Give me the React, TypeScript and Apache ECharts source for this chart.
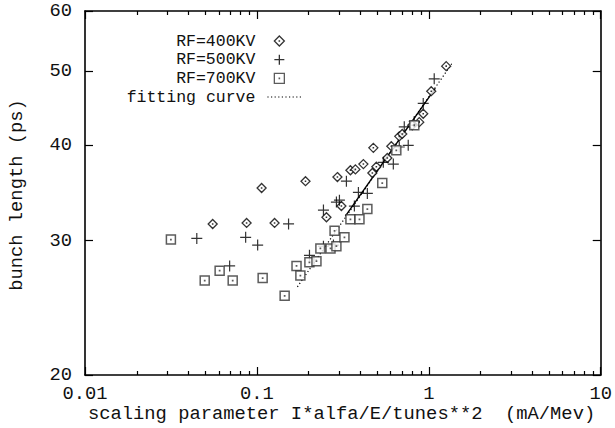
import React, { useEffect, useRef } from 'react';
import * as echarts from 'echarts';

// ---- data ----
const x400 = [0.0553, 0.0871, 0.1065, 0.1267, 0.1917, 0.2538, 0.3101, 0.294, 0.3499, 0.374, 0.4163, 0.4694, 0.4757, 0.4952, 0.5736, 0.605, 0.6733, 0.7006, 0.8012, 0.8796, 0.9279, 1.033, 1.262];
const y400 = [31.55, 31.65, 35.17, 31.65, 35.9, 32.2, 33.3, 36.35, 37.1, 37.2, 37.8, 36.8, 39.7, 37.5, 38.5, 39.9, 41.1, 41.4, 42.5, 42.9, 44.0, 47.1, 50.8];

const x500 = [0.0447, 0.0694, 0.086, 0.101, 0.1528, 0.2022, 0.2438, 0.2438, 0.2787, 0.2901, 0.302, 0.3316, 0.369, 0.3894, 0.439, 0.5436, 0.6216, 0.6733, 0.759, 0.7198, 0.8229, 0.9279, 1.075];
const y500 = [30.2, 27.8, 30.3, 29.6, 31.55, 28.7, 32.9, 29.5, 29.6, 33.7, 33.9, 35.9, 33.3, 34.7, 34.6, 38.0, 37.8, 39.8, 40.0, 42.3, 43.0, 45.4, 48.9];

const x700 = [0.0316, 0.0497, 0.0607, 0.0723, 0.108, 0.145, 0.17, 0.179, 0.202, 0.222, 0.234, 0.268, 0.283, 0.29, 0.323, 0.35, 0.395, 0.439, 0.536, 0.647, 0.823];
const y700 = [30.1, 26.6, 27.4, 26.6, 26.8, 25.4, 27.8, 27.0, 28.1, 28.2, 29.3, 29.3, 30.9, 29.5, 30.3, 32.0, 32.0, 33.0, 35.7, 39.4, 42.5];

const fitX = [0.172, 1.37];
const fitY = [26.1, 51.3];
const solidX = [0.327, 1.09];
const solidY = [32.3, 47.5];

const xTickValues = [0.01, 0.1, 1, 10];
const xTickLabels = ['0.01', '0.1', '1', '10'];
const xMinorMultipliers = [2, 3, 4, 5, 6, 7, 8, 9];
const yTickValues = [20, 30, 40, 50, 60];
const yTickLabels = ['20', '30', '40', '50', '60'];

const seriesNames = ['RF=400KV', 'RF=500KV', 'RF=700KV', 'fitting curve'];
const xTitle = 'scaling parameter I*alfa/E/tunes**2  (mA/Mev)';
const yTitle = 'bunch length (ps)';

const FONT = "'Liberation Mono', 'DejaVu Sans Mono', monospace";
const FS = 18.8;
const LFS = 16.5;
const TXT = '#111';

const DIAMOND = 'path://M5,0L10,5L5,10L0,5Z M4.85,4.85L5.15,4.85L5.15,5.15L4.85,5.15Z';
const SQUARE = 'path://M0,0L10,0L10,10L0,10Z M4.85,4.85L5.15,4.85L5.15,5.15L4.85,5.15Z';
const PLUS = 'path://M0,5L10,5M5,0L5,10';

const lg = (v: number) => Math.log10(v);
const pts = (xs: number[], ys: number[]) => xs.map((x, i) => [lg(x), lg(ys[i])]);

export default function App() {
  const ref = useRef<HTMLDivElement>(null);
  useEffect(() => {
    const chart = echarts.init(ref.current!, null, { renderer: 'svg' });
    const xMin = lg(xTickValues[0]);
    const xMax = lg(xTickValues[xTickValues.length - 1]);
    const yMin = lg(yTickValues[0]);
    const yMax = lg(yTickValues[yTickValues.length - 1]);
    const xMajor = xTickValues.map(lg);
    const xMinor: number[] = [];
    xTickValues.slice(0, -1).forEach((d) => xMinorMultipliers.forEach((k) => xMinor.push(lg(d * k))));
    const yMajor = yTickValues.map(lg);
    const axisLine = { show: true, onZero: false, lineStyle: { color: '#000', width: 1.6 } };
    const noLine = { show: false, onZero: false };
    const labelStyle = { fontFamily: FONT, fontSize: FS, color: TXT };
    const xFmt = (v: number) => {
      const i = xMajor.findIndex((m) => Math.abs(m - v) < 1e-6);
      return i >= 0 ? xTickLabels[i] : '';
    };
    const yFmt = (v: number) => {
      const i = yMajor.findIndex((m) => Math.abs(m - v) < 1e-6);
      return i >= 0 ? yTickLabels[i] : '';
    };
    const baseX = { type: 'value', min: xMin, max: xMax, splitLine: { show: false } };
    const baseY = { type: 'value', min: yMin, max: yMax, splitLine: { show: false } };
    const tickLine = { color: '#000', width: 1.2 };

    const option: any = {
      animation: false,
      backgroundColor: '#fff',
      grid: { left: 85, top: 11, right: 13, bottom: 53, containLabel: false },
      xAxis: [
        { ...baseX, position: 'bottom', axisLine,
          axisTick: { show: true, inside: true, length: 8, customValues: xMajor, lineStyle: tickLine },
          axisLabel: { show: true, customValues: xMajor, formatter: xFmt, margin: 9, showMinLabel: true, showMaxLabel: true, ...labelStyle } },
        { ...baseX, position: 'bottom', axisLine: noLine,
          axisTick: { show: true, inside: true, length: 4, customValues: xMinor, lineStyle: tickLine },
          axisLabel: { show: false } },
        { ...baseX, position: 'top', axisLine,
          axisTick: { show: true, inside: true, length: 8, customValues: xMajor, lineStyle: tickLine },
          axisLabel: { show: false } },
        { ...baseX, position: 'top', axisLine: noLine,
          axisTick: { show: true, inside: true, length: 4, customValues: xMinor, lineStyle: tickLine },
          axisLabel: { show: false } },
      ],
      yAxis: [
        { ...baseY, position: 'left', axisLine,
          axisTick: { show: true, inside: true, length: 8, customValues: yMajor, lineStyle: tickLine },
          axisLabel: { show: true, customValues: yMajor, formatter: yFmt, margin: 13, showMinLabel: true, showMaxLabel: true, ...labelStyle } },
        { ...baseY, position: 'right', axisLine,
          axisTick: { show: true, inside: true, length: 8, customValues: yMajor, lineStyle: tickLine },
          axisLabel: { show: false } },
      ],
      legend: [
        {
          data: seriesNames.slice(0, 3),
          orient: 'vertical',
          align: 'right',
          right: 330,
          top: 31.65,
          padding: 0,
          itemGap: 0,
          itemWidth: 10,
          itemHeight: 10,
          selectedMode: false,
          textStyle: { fontFamily: FONT, fontSize: LFS, lineHeight: 18.7, color: TXT, padding: [0, 14, 0, 0] },
          itemStyle: { borderWidth: 1.3 },
        },
        {
          data: seriesNames.slice(3),
          orient: 'vertical',
          align: 'right',
          right: 312,
          top: 87.65,
          padding: 0,
          itemGap: 0,
          itemWidth: 35,
          itemHeight: 10,
          selectedMode: false,
          textStyle: { fontFamily: FONT, fontSize: LFS, lineHeight: 18.7, color: TXT, padding: [0, 7, 0, 0] },
          itemStyle: { color: 'rgba(0,0,0,0)', borderWidth: 0, opacity: 0 },
          lineStyle: { width: 1.2, type: [1.2, 2.4], color: '#000' },
        },
      ],
      series: [
        { name: seriesNames[0], type: 'scatter', data: pts(x400, y400), symbol: DIAMOND, symbolSize: 9,
          itemStyle: { color: '#fff', borderColor: '#000', borderWidth: 1.3 }, z: 3 },
        { name: seriesNames[1], type: 'scatter', data: pts(x500, y500), symbol: PLUS, symbolSize: 11,
          itemStyle: { color: '#000', borderColor: '#000', borderWidth: 1.2 }, z: 3 },
        { name: seriesNames[2], type: 'scatter', data: pts(x700, y700), symbol: SQUARE, symbolSize: 9,
          itemStyle: { color: '#fff', borderColor: '#333', borderWidth: 1.5 }, z: 3 },
        { name: seriesNames[3], type: 'line', data: pts(fitX, fitY), symbol: 'none',
          itemStyle: { color: '#000' },
          lineStyle: { color: '#000', width: 1.2, type: [1.2, 2.4] }, z: 2 },
        { name: 'fit (dense)', type: 'line', data: pts(solidX, solidY), symbol: 'none',
          itemStyle: { color: '#000' },
          lineStyle: { color: '#000', width: 1.4 }, z: 2 },
      ],
      graphic: [
        { type: 'text', left: 88, top: 404, style: { text: xTitle, fontFamily: FONT, fontSize: FS, fill: TXT } },
        { type: 'text', x: 17, y: 195, rotation: Math.PI / 2,
          style: { text: yTitle, fontFamily: FONT, fontSize: FS, fill: TXT, align: 'center', verticalAlign: 'middle' } },
      ],
    };
    chart.setOption(option);
    return () => chart.dispose();
  }, []);
  return <div ref={ref} style={{ position: 'fixed', left: 0, top: 0, width: 615, height: 428, background: '#fff' }} />;
}
